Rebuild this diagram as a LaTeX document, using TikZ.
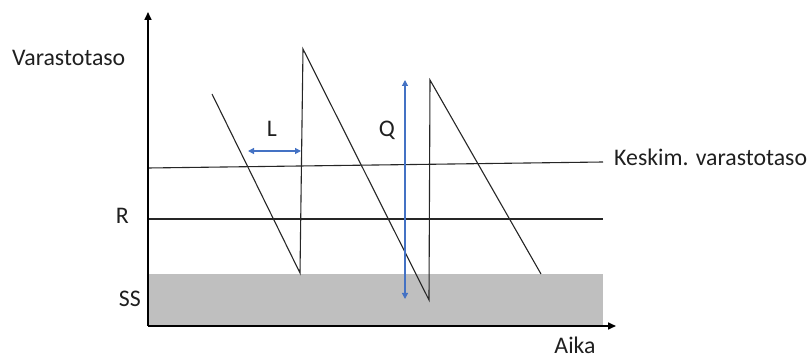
\documentclass[tikz,border=0pt]{standalone}
\usepackage{fontspec}
\setmainfont{Carlito}
\usetikzlibrary{arrows.meta}
\definecolor{ssgray}{RGB}{191,191,191}
\definecolor{qblue}{RGB}{68,114,196}
\begin{document}
\begin{tikzpicture}[x=1pt,y=-1pt,
  lbl/.style={inner sep=0pt,font=\fontsize{23.8}{28}\selectfont,text=black!88},
  axisline/.style={line width=1.6pt,-{Triangle[length=8pt,width=7pt]}},
  thin/.style={line width=1.1pt,black!85},
  bluearr/.style={line width=1.2pt,qblue,{Triangle[length=6pt,width=6pt]}-{Triangle[length=6pt,width=6pt]}}]
\useasboundingbox (0,0) rectangle (812,358);
% safety stock area
\fill[ssgray] (148,274) rectangle (603,326);
% coordinates
\coordinate (o) at (148,326);
\coordinate (ytop) at (148,12);
\coordinate (xend) at (616,326);
\coordinate (rl) at (148,219);
\coordinate (rr) at (603,219);
\coordinate (kl) at (148,168);
\coordinate (kr) at (603,162);
\coordinate (s0) at (212,94);
\coordinate (s1) at (300,273);
\coordinate (s2) at (303,49);
\coordinate (s3) at (429,300);
\coordinate (s4) at (430,80);
\coordinate (s5) at (541,274);
\coordinate (la) at (248,151);
\coordinate (lb) at (301,151);
\coordinate (qa) at (405,80);
\coordinate (qb) at (405,299);
% lines
\draw[thin] (rl) -- (rr);
\draw[thin] (kl) -- (kr);
\draw[thin,line join=miter] (s0) -- (s1) -- (s2) -- (s3) -- (s4) -- (s5);
% axes
\draw[axisline] (o) -- (ytop);
\draw[axisline] (o) -- (xend);
% arrows
\draw[bluearr] (la) -- (lb);
\draw[bluearr] (qa) -- (qb);
% labels
\node[lbl,anchor=base west] (vt) at (12,66) {Varastotaso};
\node[lbl,anchor=base east] (r) at (129,224) {R};
\node[lbl,anchor=base east] (ss) at (141,307) {SS};
\node[lbl,anchor=base] (aika) at (575,353) {Aika};
\node[lbl,anchor=base west] (kv) at (614,166) {Keskim. varastotaso};
\node[lbl,anchor=base] (L) at (272,137) {L};
\node[lbl,anchor=base] (Q) at (387,137) {Q};
\end{tikzpicture}
\end{document}
